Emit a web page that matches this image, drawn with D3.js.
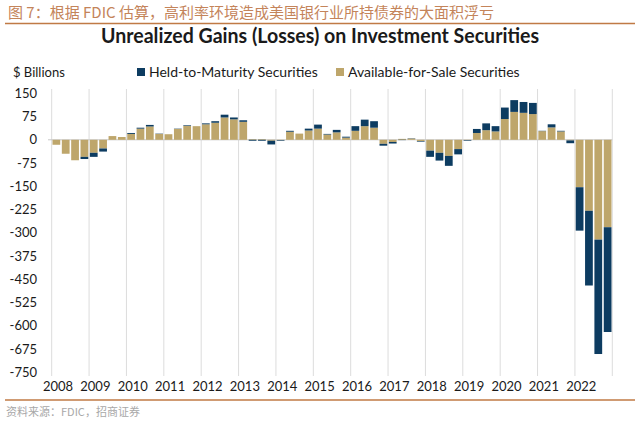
<!DOCTYPE html>
<html>
<head>
<meta charset="utf-8">
<script src="https://cdn.jsdelivr.net/npm/d3@7"></script>
<style>
  html, body { margin: 0; padding: 0; background: #fff; }
  svg { display: block; }
</style>
</head>
<body>
<svg id="chart" width="640" height="423"></svg>
<script>
// ---- Data ----
const years = ["2008","2009","2010","2011","2012","2013","2014","2015","2016","2017","2018","2019","2020","2021","2022"];
const quarters = ["Q1","Q2","Q3","Q4"];
// Available-for-Sale unrealized gains/losses ($ billions), quarterly 2008Q1..2022Q4
const afsValues = [
  -16, -45, -66, -55,
  -42, -28, 12, 9,
  19, 36, 43, 19,
  18, 35, 45, 44,
  50, 55, 72, 66,
  58, 2, 2, -3,
  -1, 26, 20, 30,
  36, 17, 24, 7,
  29, 44, 39, -13,
  -7, 3, 4, -4,
  -35, -42, -52, -30,
  -1, 22, 31, 27,
  67, 90, 87, 83,
  28, 40, 27, -2,
  -153, -229, -322, -282
];
// Held-to-Maturity unrealized gains/losses ($ billions)
const htmValues = [
  0, 0, 0, -7,
  -13, -10, 0, 0,
  3, 3, 5, 1,
  0, 1, 2, 0,
  3, 5, 9, 6,
  5, -3, -3, -12,
  -2, 3, 0, 6,
  13, 2, 8, 3,
  15, 21, 21, -6,
  -5, -1, 1, -2,
  -20, -25, -32, -17,
  -2, 13, 22, 17,
  37, 38, 35, 36,
  1, 10, 2, -9,
  -140, -241, -369, -338
];
const yTicks = [150, 75, 0, -75, -150, -225, -300, -375, -450, -525, -600, -675, -750];
const seriesNames = ["Held-to-Maturity Securities", "Available-for-Sale Securities"];

const titleCN = "图 7：根据 FDIC 估算，高利率环境造成美国银行业所持债券的大面积浮亏";
const chartTitle = "Unrealized Gains (Losses) on Investment Securities";
const unitLabel = "$ Billions";
const sourceText = "资料来源：FDIC，招商证券";

// ---- Build table ----
const periods = [];
years.forEach(y => quarters.forEach(q => periods.push(y + q)));
const table = periods.map((p, i) => ({ period: p, AFS: afsValues[i], HTM: htmValues[i] }));

const colors = { HTM: "#0d3c61", AFS: "#bea66b" };
const accent = "#c07a45";

const svg = d3.select("#chart");

// ---- Scales ----
const x = d3.scaleBand().domain(periods).range([51.7, 612.3]).paddingInner(0.17).paddingOuter(0.085);
const xStep = x.step();
const y = d3.scaleLinear().domain([-750, 150]).range([372.3, 93.3]);

// ---- Header ----
svg.append("text")
  .attr("x", 8).attr("y", 17.5)
  .attr("font-family", "'Noto Sans CJK SC', sans-serif")
  .attr("font-size", 15)
  .attr("font-weight", 400)
  .attr("fill", "#c4845a")
  .text(titleCN);
svg.append("line").attr("x1", 5).attr("x2", 635).attr("y1", 23.5).attr("y2", 23.5)
  .attr("stroke", accent).attr("stroke-width", 1.5);

svg.append("text")
  .attr("x", 320).attr("y", 43)
  .attr("text-anchor", "middle")
  .attr("font-family", "Lato, sans-serif")
  .attr("font-weight", 700)
  .attr("font-size", 21)
  .attr("fill", "#1a1a1a")
  .attr("textLength", 438)
  .attr("lengthAdjust", "spacingAndGlyphs")
  .text(chartTitle);

// ---- Gridlines (year boundaries) ----
const gridX = years.map(yr => x(yr + "Q1") - (xStep - x.bandwidth()) / 2);
gridX.push(612.3);
svg.append("g").selectAll("line").data(gridX).join("line")
  .attr("x1", d => d).attr("x2", d => d)
  .attr("y1", 89).attr("y2", 376)
  .attr("stroke", "#dcdcdc").attr("stroke-width", 1);

// zero line
svg.append("line").attr("x1", 48).attr("x2", 612.3)
  .attr("y1", y(0)).attr("y2", y(0))
  .attr("stroke", "#c8c8c8").attr("stroke-width", 1);

// ---- Stacked bars ----
const stack = d3.stack().keys(["AFS", "HTM"]).offset(d3.stackOffsetDiverging);
const stacked = stack(table);
svg.append("g").selectAll("g").data(stacked).join("g")
  .attr("fill", s => colors[s.key])
  .selectAll("rect").data(s => s).join("rect")
  .attr("x", d => x(d.data.period))
  .attr("width", x.bandwidth())
  .attr("y", d => y(Math.max(d[0], d[1])))
  .attr("height", d => Math.abs(y(d[0]) - y(d[1])));

// ---- Y axis labels ----
svg.append("g").selectAll("text").data(yTicks).join("text")
  .attr("x", 37).attr("y", d => y(d))
  .attr("dy", "0.35em")
  .attr("text-anchor", "end")
  .attr("font-family", "Lato, sans-serif")
  .attr("font-size", 13)
  .attr("fill", "#1a1a1a")
  .text(d => d);

svg.append("text")
  .attr("x", 13).attr("y", 77)
  .attr("font-family", "Lato, sans-serif")
  .attr("font-size", 13)
  .attr("fill", "#1a1a1a")
  .text(unitLabel);

// ---- X axis labels ----
svg.append("g").selectAll("text").data(years).join("text")
  .attr("x", (d, i) => gridX[i] + 6.3)
  .attr("y", 391)
  .attr("text-anchor", "middle")
  .attr("font-family", "Lato, sans-serif")
  .attr("font-size", 13)
  .attr("fill", "#1a1a1a")
  .text(d => d);

// ---- Legend ----
const legendItems = [
  { name: seriesNames[0], color: colors.HTM, x: 137 },
  { name: seriesNames[1], color: colors.AFS, x: 336 }
];
const lg = svg.append("g").selectAll("g").data(legendItems).join("g")
  .attr("transform", d => `translate(${d.x},0)`);
lg.append("rect").attr("x", 0).attr("y", 68).attr("width", 8).attr("height", 8).attr("fill", d => d.color);
lg.append("text").attr("x", 12).attr("y", 77)
  .attr("font-family", "Lato, sans-serif")
  .attr("font-size", 14)
  .attr("fill", "#1a1a1a")
  .text(d => d.name);

// ---- Footer ----
svg.append("line").attr("x1", 5).attr("x2", 635).attr("y1", 400).attr("y2", 400)
  .attr("stroke", accent).attr("stroke-width", 1.5);
svg.append("text")
  .attr("x", 6).attr("y", 416)
  .attr("font-family", "'Noto Sans CJK SC', sans-serif")
  .attr("font-size", 11)
  .attr("fill", "#a8a8a8")
  .text(sourceText);
</script>
</body>
</html>
